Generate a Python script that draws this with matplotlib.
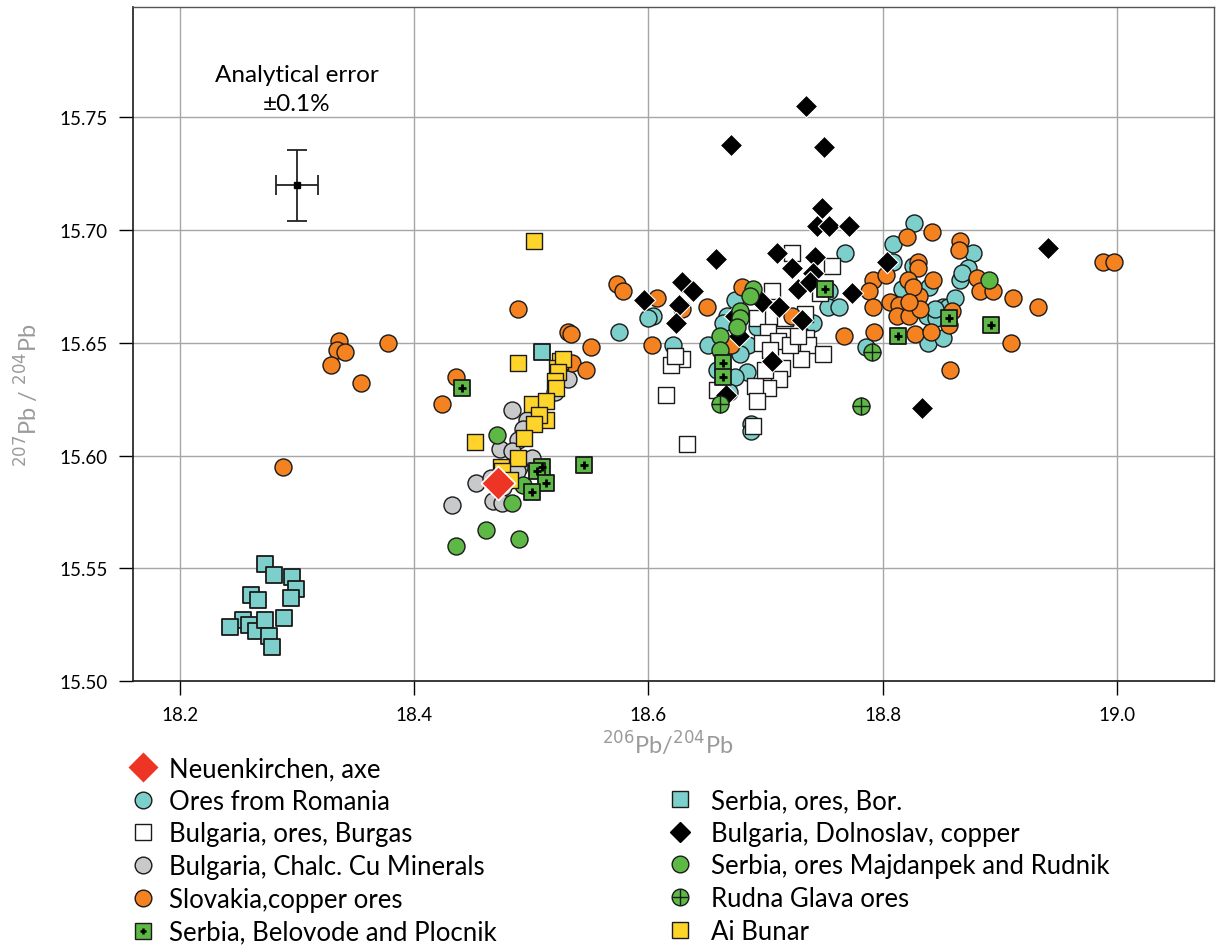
import matplotlib
matplotlib.use('Agg')
import matplotlib.pyplot as plt
from matplotlib.lines import Line2D

# ---------------- data (206Pb/204Pb, 207Pb/204Pb) ----------------
neuenkirchen = [(18.472, 15.588)]

romania = [(18.575, 15.655), (18.604, 15.662), (18.600, 15.661), (18.621, 15.649), (18.651, 15.649),
           (18.674, 15.669), (18.667, 15.662), (18.664, 15.659), (18.693, 15.657), (18.685, 15.649),
           (18.678, 15.645), (18.684, 15.637), (18.659, 15.638), (18.674, 15.635), (18.669, 15.628),
           (18.688, 15.614), (18.688, 15.611), (18.768, 15.690), (18.754, 15.673), (18.753, 15.666),
           (18.763, 15.666), (18.741, 15.659), (18.786, 15.648), (18.827, 15.703), (18.809, 15.694),
           (18.877, 15.690), (18.809, 15.686), (18.826, 15.684), (18.866, 15.678), (18.873, 15.683),
           (18.868, 15.681), (18.817, 15.674), (18.840, 15.675), (18.838, 15.662), (18.846, 15.661),
           (18.852, 15.666), (18.856, 15.666), (18.862, 15.670), (18.845, 15.665), (18.839, 15.650),
           (18.852, 15.652)]

burgas = [(18.629, 15.643), (18.619, 15.640), (18.615, 15.627), (18.633, 15.605), (18.723, 15.690),
          (18.757, 15.684), (18.706, 15.673), (18.747, 15.672), (18.734, 15.663), (18.693, 15.661),
          (18.717, 15.661), (18.735, 15.652), (18.723, 15.650), (18.715, 15.653), (18.736, 15.649),
          (18.749, 15.645), (18.730, 15.643), (18.714, 15.639), (18.712, 15.634), (18.702, 15.630),
          (18.691, 15.631), (18.693, 15.624), (18.689, 15.613), (18.702, 15.655), (18.711, 15.651),
          (18.700, 15.638), (18.721, 15.649), (18.728, 15.653), (18.659, 15.629), (18.623, 15.644),
          (18.697, 15.650), (18.704, 15.647)]

chalc = [(18.484, 15.620), (18.531, 15.634), (18.520, 15.628), (18.496, 15.616), (18.493, 15.612),
         (18.489, 15.607), (18.473, 15.603), (18.484, 15.602), (18.501, 15.599), (18.490, 15.595),
         (18.488, 15.593), (18.453, 15.588), (18.466, 15.590), (18.476, 15.586), (18.467, 15.580),
         (18.475, 15.579), (18.432, 15.578)]

slovakia = [(18.336, 15.651), (18.334, 15.647), (18.341, 15.646), (18.329, 15.640), (18.355, 15.632),
            (18.378, 15.650), (18.288, 15.595), (18.489, 15.665), (18.531, 15.655), (18.534, 15.654),
            (18.551, 15.648), (18.535, 15.641), (18.547, 15.638), (18.436, 15.635), (18.424, 15.623),
            (18.573, 15.676), (18.578, 15.673), (18.607, 15.670), (18.650, 15.666), (18.629, 15.665),
            (18.603, 15.649), (18.680, 15.675), (18.671, 15.649), (18.723, 15.662), (18.767, 15.653),
            (18.792, 15.678), (18.788, 15.673), (18.792, 15.666), (18.793, 15.655), (18.803, 15.680),
            (18.842, 15.699), (18.821, 15.697), (18.866, 15.695), (18.865, 15.691), (18.830, 15.686),
            (18.830, 15.683), (18.822, 15.678), (18.843, 15.678), (18.806, 15.668), (18.814, 15.667),
            (18.831, 15.671), (18.812, 15.662), (18.823, 15.662), (18.832, 15.665), (18.826, 15.675),
            (18.823, 15.668), (18.881, 15.679), (18.883, 15.673), (18.894, 15.673), (18.911, 15.670),
            (18.933, 15.666), (18.859, 15.664), (18.857, 15.658), (18.828, 15.654), (18.841, 15.655),
            (18.910, 15.650), (18.858, 15.638), (18.988, 15.686), (18.998, 15.686)]

belovode = [(18.441, 15.630), (18.509, 15.595), (18.505, 15.593), (18.513, 15.588), (18.501, 15.584),
            (18.545, 15.596), (18.751, 15.674), (18.664, 15.641), (18.664, 15.635), (18.857, 15.661),
            (18.893, 15.658), (18.813, 15.653)]

bor = [(18.273, 15.552), (18.280, 15.547), (18.296, 15.546), (18.299, 15.541), (18.261, 15.538),
       (18.267, 15.536), (18.295, 15.537), (18.289, 15.528), (18.254, 15.527), (18.243, 15.524),
       (18.259, 15.525), (18.265, 15.522), (18.273, 15.527), (18.276, 15.520), (18.279, 15.515),
       (18.509, 15.646)]

dolnoslav = [(18.735, 15.755), (18.671, 15.738), (18.750, 15.737), (18.748, 15.710), (18.744, 15.702),
             (18.754, 15.702), (18.771, 15.702), (18.658, 15.687), (18.710, 15.690), (18.742, 15.688),
             (18.723, 15.683), (18.741, 15.681), (18.728, 15.674), (18.738, 15.677), (18.774, 15.672),
             (18.629, 15.677), (18.638, 15.673), (18.596, 15.669), (18.626, 15.667), (18.624, 15.659),
             (18.697, 15.668), (18.712, 15.666), (18.731, 15.660), (18.706, 15.642), (18.666, 15.627),
             (18.804, 15.686), (18.941, 15.692), (18.834, 15.621), (18.674, 15.662), (18.677, 15.653)]

majdanpek = [(18.471, 15.609), (18.493, 15.587), (18.484, 15.579), (18.461, 15.567), (18.436, 15.560),
             (18.490, 15.563), (18.689, 15.674), (18.687, 15.671), (18.678, 15.664), (18.678, 15.661),
             (18.676, 15.657), (18.661, 15.653), (18.661, 15.647), (18.891, 15.678)]

rudna = [(18.661, 15.623), (18.782, 15.622), (18.791, 15.646)]

aibunar = [(18.502, 15.695), (18.489, 15.641), (18.452, 15.606), (18.525, 15.642), (18.522, 15.639),
           (18.527, 15.643), (18.523, 15.637), (18.520, 15.633), (18.521, 15.630), (18.501, 15.623),
           (18.513, 15.624), (18.513, 15.616), (18.507, 15.618), (18.502, 15.614), (18.494, 15.608),
           (18.489, 15.599), (18.474, 15.595), (18.475, 15.593), (18.482, 15.589)]

error_center = (18.30, 15.72)
error_pct = 0.001

x_ticks = [18.2, 18.4, 18.6, 18.8, 19.0]
y_ticks = [15.50, 15.55, 15.60, 15.65, 15.70, 15.75]

labels_left = ["Neuenkirchen, axe", "Ores from Romania", "Bulgaria, ores, Burgas",
               "Bulgaria, Chalc. Cu Minerals", "Slovakia,copper ores", "Serbia, Belovode and Plocnik"]
labels_right = ["Serbia, ores, Bor.", "Bulgaria, Dolnoslav, copper", "Serbia, ores Majdanpek and Rudnik",
                "Rudna Glava ores", "Ai Bunar"]

# ---------------- style ----------------
TEAL = '#7CCFCA'
ORANGE = '#F58220'
GRAY = '#C8C9CB'
GREEN = '#5DB846'
YELLOW = '#FFD42A'
RED = '#EE3424'
EDGE = '#1a1a1a'

main_font = ['Lato', 'DejaVu Sans']
legend_font = ['Lato', 'DejaVu Sans']

fig = plt.figure(figsize=(12.16, 9.53), dpi=100)
ax = fig.add_axes([133 / 1216, 1 - 682 / 953, 1081 / 1216, 674 / 953])


def xs(pts):
    return [p[0] for p in pts]


def ys(pts):
    return [p[1] for p in pts]


S_CIRC = 150
S_SQ = 120

ax.scatter(xs(romania), ys(romania), s=S_CIRC, marker='o', facecolor=TEAL, edgecolor=EDGE, lw=1, zorder=3)
ax.scatter(xs(bor), ys(bor), s=S_SQ, marker='s', facecolor=TEAL, edgecolor=EDGE, lw=1.3, zorder=3)
ax.scatter(xs(burgas), ys(burgas), s=S_SQ, marker='s', facecolor='white', edgecolor=EDGE, lw=1, zorder=3)
ax.scatter(xs(chalc), ys(chalc), s=S_CIRC, marker='o', facecolor=GRAY, edgecolor=EDGE, lw=1, zorder=3)
ax.scatter(xs(slovakia), ys(slovakia), s=S_CIRC, marker='o', facecolor=ORANGE, edgecolor=EDGE, lw=1, zorder=3)
ax.scatter(xs(dolnoslav), ys(dolnoslav), s=130, marker='D', facecolor='black', edgecolor='white', lw=0.8, zorder=3)
ax.scatter(xs(majdanpek), ys(majdanpek), s=S_CIRC, marker='o', facecolor=GREEN, edgecolor=EDGE, lw=1, zorder=3)
ax.scatter(xs(aibunar), ys(aibunar), s=S_SQ, marker='s', facecolor=YELLOW, edgecolor=EDGE, lw=1, zorder=3)
ax.scatter(xs(belovode), ys(belovode), s=S_SQ, marker='s', facecolor=GREEN, edgecolor=EDGE, lw=1.3, zorder=3)
ax.scatter(xs(belovode), ys(belovode), s=30, marker='+', color='black', lw=2, zorder=3)
ax.scatter(xs(rudna), ys(rudna), s=S_CIRC, marker='o', facecolor=GREEN, edgecolor=EDGE, lw=1, zorder=3)
ax.scatter(xs(rudna), ys(rudna), s=S_CIRC, marker='+', color=EDGE, lw=1, zorder=3)
ax.scatter(xs(neuenkirchen), ys(neuenkirchen), s=300, marker='D', facecolor=RED, edgecolor='white', lw=1.2, zorder=4)

# analytical error bar
ex, ey = error_center
ax.errorbar([ex], [ey], xerr=[ex * error_pct], yerr=[ey * error_pct], fmt='s', ms=5,
            color='black', ecolor='#222222', elinewidth=1.3, capsize=7, capthick=1.3, zorder=4)
ax.text(ex, 15.769, 'Analytical error', ha='center', va='center', fontsize=17.5, family=main_font)
ax.text(ex, 15.756, '\u00b10.1%', ha='center', va='center', fontsize=17.5, family=main_font)

# axes
ax.set_xlim(18.16, 19.083)
ax.set_ylim(15.50, 15.799)
ax.set_xticks(x_ticks)
ax.set_xticklabels([f'{v:.1f}' for v in x_ticks])
ax.set_yticks(y_ticks)
ax.set_yticklabels([f'{v:.2f}' for v in y_ticks])
ax.grid(True, color='#a6a6a6', lw=1)
ax.set_axisbelow(True)
ax.tick_params(axis='both', direction='out', length=10, width=1, color='black', labelsize=13.5, pad=8)
for lab in ax.get_xticklabels() + ax.get_yticklabels():
    lab.set_family(main_font)
for side in ['left', 'bottom']:
    ax.spines[side].set_color('#1a1a1a')
    ax.spines[side].set_linewidth(1.2)
for side in ['right', 'top']:
    ax.spines[side].set_color('#555555')
    ax.spines[side].set_linewidth(1.0)

fig.text(28 / 1216, 1 - 395 / 953, r'$^{207}$Pb / $^{204}$Pb', rotation=90, ha='center', va='center',
         fontsize=17, color='#9a9a9a', family=main_font)
fig.text(668 / 1216, 1 - 745 / 953, r'$^{206}$Pb/$^{204}$Pb', ha='center', va='center',
         fontsize=17, color='#9a9a9a', family=main_font)

# legend
h_left = [
    Line2D([], [], ls='none', marker='D', ms=15, mfc=RED, mec='none'),
    Line2D([], [], ls='none', marker='o', ms=12, mfc=TEAL, mec=EDGE, mew=1),
    Line2D([], [], ls='none', marker='s', ms=11, mfc='white', mec=EDGE, mew=1),
    Line2D([], [], ls='none', marker='o', ms=12, mfc=GRAY, mec=EDGE, mew=1),
    Line2D([], [], ls='none', marker='o', ms=12, mfc=ORANGE, mec=EDGE, mew=1),
    (Line2D([], [], ls='none', marker='s', ms=11, mfc=GREEN, mec=EDGE, mew=1),
     Line2D([], [], ls='none', marker='+', ms=5, mec='black', mew=1.8)),
]
h_right = [
    Line2D([], [], ls='none', marker='s', ms=11, mfc=TEAL, mec=EDGE, mew=1),
    Line2D([], [], ls='none', marker='D', ms=10, mfc='black', mec='black'),
    Line2D([], [], ls='none', marker='o', ms=12, mfc=GREEN, mec=EDGE, mew=1),
    (Line2D([], [], ls='none', marker='o', ms=12, mfc=GREEN, mec=EDGE, mew=1),
     Line2D([], [], ls='none', marker='+', ms=12, mec=EDGE, mew=1)),
    Line2D([], [], ls='none', marker='s', ms=11, mfc=YELLOW, mec=EDGE, mew=1),
]
leg_kw = dict(frameon=False, prop={'family': legend_font, 'size': 18.5}, handlelength=1.0,
              labelspacing=0.30, borderpad=0, borderaxespad=0, loc='upper left')
leg1 = fig.legend(h_left, labels_left, bbox_to_anchor=(130 / 1216, 1 - 757 / 953),
                  handletextpad=0.5, **leg_kw)
leg2 = fig.legend(h_right, labels_right, bbox_to_anchor=(667 / 1216, 1 - 789 / 953),
                  handletextpad=0.7, **leg_kw)

fig.savefig('out.png', dpi=100)
